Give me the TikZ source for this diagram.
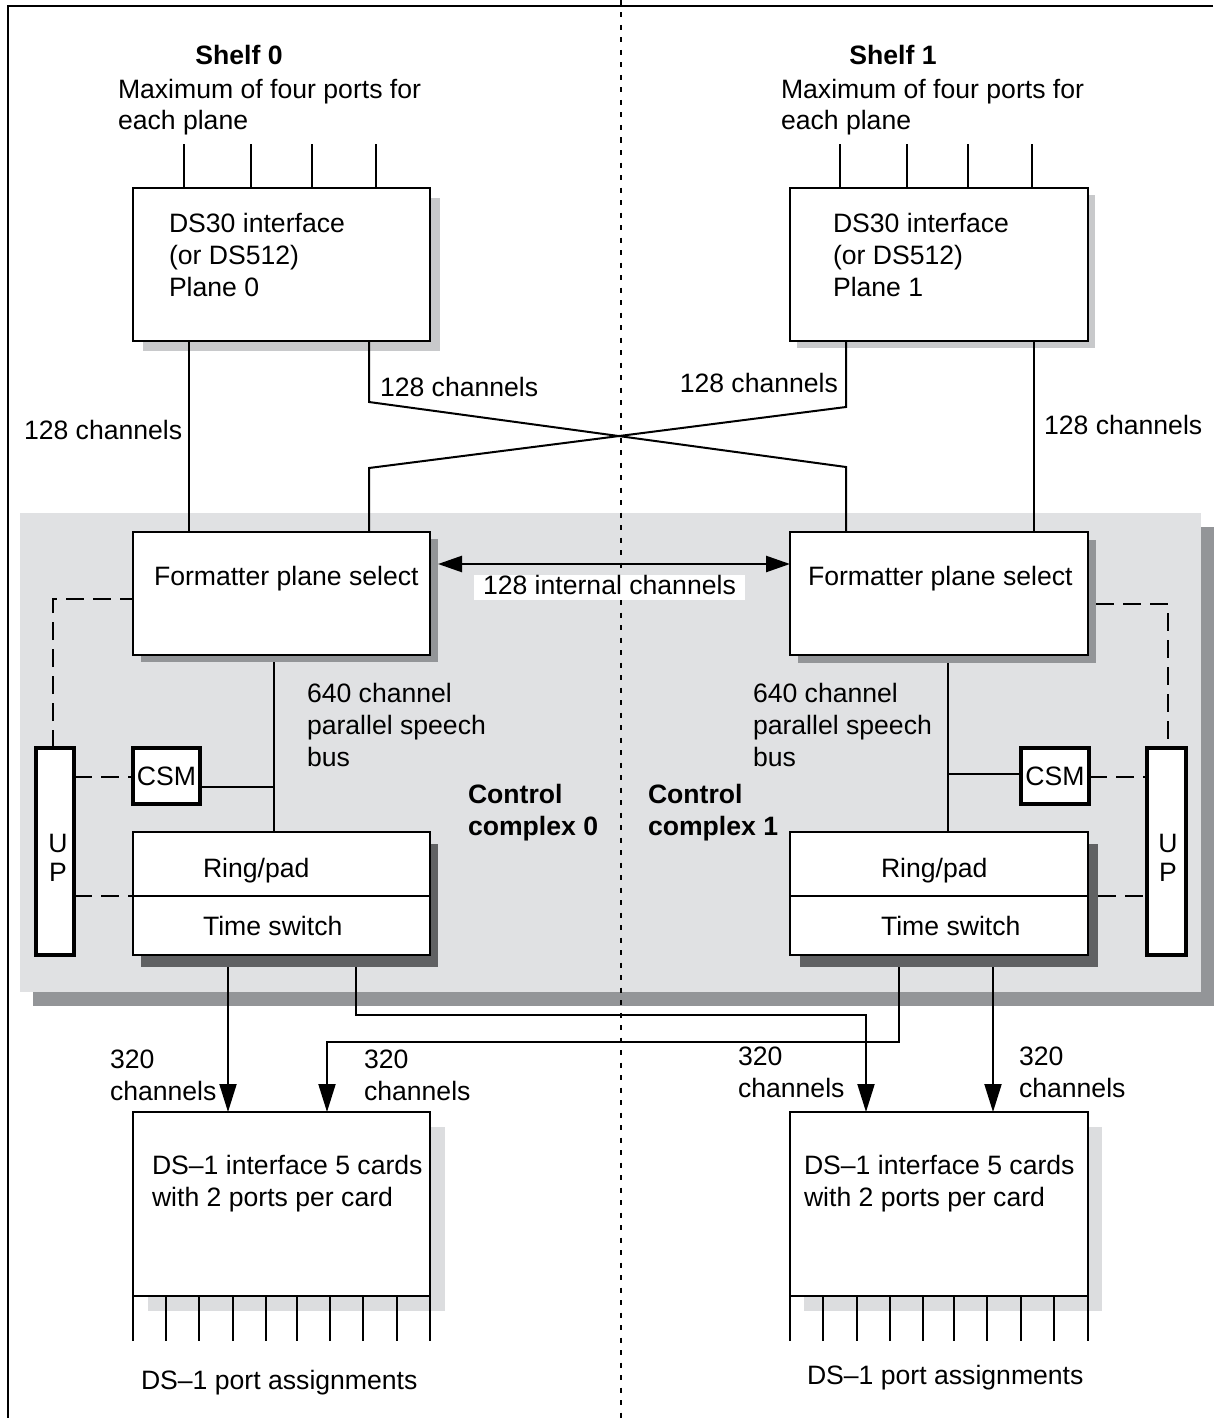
\documentclass[tikz,border=0pt]{standalone}
\usepackage{fontspec}
\setmainfont{Liberation Sans}
\usetikzlibrary{arrows.meta,calc}
\definecolor{panel}{HTML}{E0E1E3}
\definecolor{panelshade}{HTML}{939598}
\definecolor{lightshade}{HTML}{C8C9CB}
\definecolor{paleshade}{HTML}{DCDDDF}
\definecolor{midshade}{HTML}{939598}
\definecolor{darkshade}{HTML}{606163}
\pgfdeclarelayer{panellayer}
\pgfdeclarelayer{shadelayer}
\pgfsetlayers{panellayer,shadelayer,main}
% drop shadow behind a box: node, offset, colour
\newcommand\castshadow[3]{%
  \begin{pgfonlayer}{shadelayer}
    \fill[#3] ($(#1.north west)+(#2)$) rectangle ($(#1.south east)+(#2)$);
  \end{pgfonlayer}}
\begin{document}
\begin{tikzpicture}[x=1pt,y=-1pt,
  every node/.style={font=\fontsize{26.6}{32}\selectfont, inner sep=0pt, outer sep=0pt},
  boldtext/.style={font=\fontsize{26.6}{32}\selectfont\bfseries},
  box/.style n args={2}{draw, line width=2.5pt, fill=white, anchor=north west,
    minimum width=#1, minimum height=#2},
  thickbox/.style n args={2}{draw, line width=4pt, fill=white, anchor=north west,
    minimum width=#1, minimum height=#2},
  txt/.style={anchor=base west, align=left},
  conn/.style={line width=2pt},
  port/.style={line width=1.5pt},
  ctl/.style={line width=2pt, dash pattern=on 18pt off 9pt},
  dnarrow/.style={line width=2pt, -{Triangle[length=28pt,width=17pt]}},
  bothways/.style={line width=2.5pt,
    {Triangle[length=24pt,width=16pt]}-{Triangle[length=24pt,width=16pt]}}]
\useasboundingbox (0,0) rectangle (1213,1418);

% control complex panel with its shadow
\begin{pgfonlayer}{panellayer}
  \fill[white] (0,0) rectangle (1213,1418);
  \fill[panelshade] (33,527) rectangle (1214,1006);
  \fill[panel] (20,513) rectangle (1201,992);
\end{pgfonlayer}

% outer frame and shelf divider
\draw[line width=1.5pt] (1213,6) -- (8,6) -- (8,1418);
\draw[line width=2pt, dash pattern=on 5pt off 7.5pt] (621,0) -- (621,1418);

% boxes
\node[box={297}{153}] (ds0) at (133,188) {};
\node[box={298}{153}] (ds1) at (790,188) {};
\node[box={297}{123}] (fmt0) at (133,532) {};
\node[box={298}{123}] (fmt1) at (790,532) {};
\node[box={297}{64}] (rp0) at (133,832) {};
\node[box={297}{59}] (ts0) at (133,896) {};
\node[box={298}{64}] (rp1) at (790,832) {};
\node[box={298}{59}] (ts1) at (790,896) {};
\node[thickbox={67}{56}] (csm0) at (133,748) {CSM};
\node[thickbox={68}{56}] (csm1) at (1021,748) {CSM};
\node[thickbox={38}{207}] (up0) at (36,748) {};
\node[thickbox={39}{207}] (up1) at (1147,748) {};
\node[box={297}{184}] (dsa0) at (133,1112) {};
\node[box={298}{184}] (dsa1) at (790,1112) {};

% shadows
\castshadow{ds0}{10,10}{lightshade}
\castshadow{ds1}{7,7}{lightshade}
\castshadow{fmt0}{8,7}{midshade}
\castshadow{fmt1}{8,8}{midshade}
\castshadow{dsa0}{15,15}{paleshade}
\castshadow{dsa1}{14,15}{paleshade}
\begin{pgfonlayer}{shadelayer}
  \fill[darkshade] ($(rp0.north west)+(8,12)$) rectangle ($(ts0.south east)+(8,12)$);
  \fill[darkshade] ($(rp1.north west)+(10,12)$) rectangle ($(ts1.south east)+(10,12)$);
\end{pgfonlayer}

% ports into the DS30 interfaces
\foreach \dx in {51,118,179,243}
  \draw[port] ($(ds0.north west)+(\dx,0)$) -- ++(0,-44);
\foreach \dx in {50,117,178,242}
  \draw[port] ($(ds1.north west)+(\dx,0)$) -- ++(0,-44);
% DS-1 port assignments
\foreach \dx in {0,33,66,100,133,164,197,230,264,297}
  \draw[port] ($(dsa0.south west)+(\dx,0)$) -- ++(0,45);
\foreach \dx in {0,33,67,100,133,164,197,231,264,298}
  \draw[port] ($(dsa1.south west)+(\dx,0)$) -- ++(0,45);

% 128 channel links between planes and formatters
\draw[conn] ($(ds0.south west)+(56,0)$) -- ($(fmt0.north west)+(56,0)$);
\draw[conn] ($(ds0.south west)+(236,0)$) -- ++(0,61)
  -- ($(fmt1.north west)+(56,-65)$) -- ($(fmt1.north west)+(56,0)$);
\draw[conn] ($(ds1.south west)+(56,0)$) -- ++(0,66)
  -- ($(fmt0.north west)+(236,-64)$) -- ($(fmt0.north west)+(236,0)$);
\draw[conn] ($(ds1.south west)+(244,0)$) -- ($(fmt1.north west)+(244,0)$);

% internal channels between formatters
\draw[bothways] ($(fmt0.north east)+(8,32)$) -- ($(fmt1.north west)+(0,32)$);

% speech buses and CSM taps
\draw[conn] ($(fmt0.south west)+(140.5,7)$) -- ($(rp0.north west)+(140.5,0)$);
\draw[conn] ($(csm0.north east)+(0,39)$) -- ($(fmt0.south west)+(140.5,132)$);
\draw[conn] ($(fmt1.south west)+(158,8)$) -- ($(rp1.north west)+(158,0)$);
\draw[conn] ($(fmt1.south west)+(158,119)$) -- ($(csm1.north west)+(0,26)$);

% UP control links
\draw[ctl] ($(up0.north west)+(17,0)$) |- ($(fmt0.north west)+(0,67)$);
\draw[ctl] ($(up0.north east)+(0,29)$) -- ($(csm0.north west)+(0,29)$);
\draw[ctl] ($(up0.north east)+(0,148)$) -- (ts0.north west);
\draw[ctl] ($(fmt1.north east)+(8,72)$) -| ($(up1.north west)+(21,0)$);
\draw[ctl] ($(csm1.north east)+(0,29)$) -- ($(up1.north west)+(0,29)$);
\draw[ctl] ($(ts1.north east)+(10,0)$) -- ($(up1.north west)+(0,148)$);

% 320 channel links to the DS-1 interfaces
\draw[dnarrow] ($(ts0.south west)+(95,12)$) -- ($(dsa0.north west)+(95,0)$);
\draw[dnarrow] ($(ts0.south west)+(223,12)$) |- ($(dsa1.north west)+(76,-97)$)
  -- ($(dsa1.north west)+(76,0)$);
\draw[dnarrow] ($(ts1.south west)+(109,12)$) |- ($(dsa0.north west)+(194,-70)$)
  -- ($(dsa0.north west)+(194,0)$);
\draw[dnarrow] ($(ts1.south west)+(203,12)$) -- ($(dsa1.north west)+(203,0)$);

% labels (multi-line nodes sit on the baseline of their last line)
\node[boldtext, anchor=base] (shelf0) at (239,65) {Shelf 0};
\node[boldtext, anchor=base] (shelf1) at (893,65) {Shelf 1};
\node[txt] (max0) at (118,130) {Maximum of four ports for\\each plane};
\node[txt] (max1) at (781,130) {Maximum of four ports for\\each plane};
\node[txt] (ds0t) at ($(ds0.north west)+(36,108)$) {DS30 interface\\(or DS512)\\Plane 0};
\node[txt] (ds1t) at ($(ds1.north west)+(43,108)$) {DS30 interface\\(or DS512)\\Plane 1};
\node[txt] (ch0a) at (24,439) {128 channels};
\node[txt] (ch0b) at (380,396) {128 channels};
\node[anchor=base east] (ch1a) at (838,392) {128 channels};
\node[txt] (ch1b) at (1044,434) {128 channels};
\node[txt] (fmt0t) at ($(fmt0.north west)+(21,53)$) {Formatter plane select};
\node[txt] (fmt1t) at ($(fmt1.north west)+(18,53)$) {Formatter plane select};
\node[anchor=base west, fill=white, inner xsep=9pt, text height=19pt, text depth=6pt]
  (intl) at (474,594) {128 internal channels};
\node[txt] (bus0) at (307,766) {640 channel\\parallel speech\\bus};
\node[txt] (bus1) at (753,766) {640 channel\\parallel speech\\bus};
\node[boldtext, txt] (cc0) at (468,835) {Control\\complex 0};
\node[boldtext, txt] (cc1) at (648,835) {Control\\complex 1};
\node[anchor=base, align=center, font=\fontsize{26.6}{29}\selectfont] (up0t)
  at ($(up0.north west)+(22,133)$) {U\\P};
\node[anchor=base, align=center, font=\fontsize{26.6}{29}\selectfont] (up1t)
  at ($(up1.north west)+(21,133)$) {U\\P};
\node[txt] (rp0t) at ($(rp0.north west)+(70,45)$) {Ring/pad};
\node[txt] (ts0t) at ($(ts0.north west)+(70,39)$) {Time switch};
\node[txt] (rp1t) at ($(rp1.north west)+(91,45)$) {Ring/pad};
\node[txt] (ts1t) at ($(ts1.north west)+(91,39)$) {Time switch};
\node[txt] (l320a) at (110,1100) {320\\channels};
\node[txt] (l320b) at (364,1100) {320\\channels};
\node[txt] (l320c) at (738,1097) {320\\channels};
\node[txt] (l320d) at (1019,1097) {320\\channels};
\node[txt] (dsa0t) at ($(dsa0.north west)+(19,94)$) {DS--1 interface 5 cards\\with 2 ports per card};
\node[txt] (dsa1t) at ($(dsa1.north west)+(14,94)$) {DS--1 interface 5 cards\\with 2 ports per card};
\node[txt] (pa0) at (141,1389) {DS--1 port assignments};
\node[txt] (pa1) at (807,1384) {DS--1 port assignments};
\end{tikzpicture}
\end{document}
